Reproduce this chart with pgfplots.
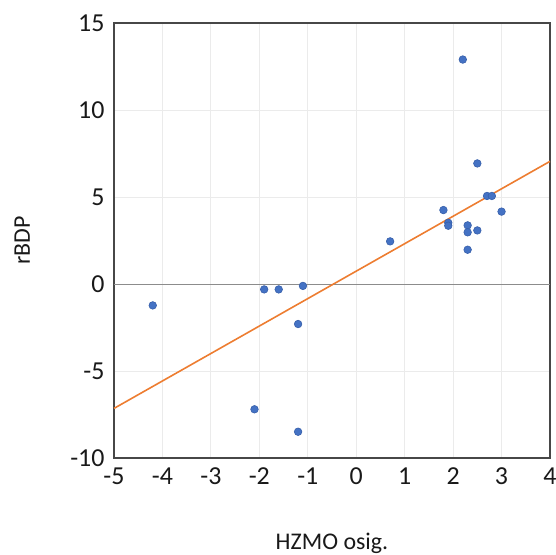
\documentclass[border=0pt]{standalone}
\usepackage{pgfplots}
\pgfplotsset{compat=1.18}
\usepackage{fontspec}
\setmainfont{Carlito}
\definecolor{xlblue}{RGB}{68,114,196}
\definecolor{xlblueedge}{RGB}{55,95,170}
\definecolor{xlorange}{RGB}{237,125,49}
\begin{document}
\begin{tikzpicture}
\begin{axis}[
  name=ax,
  scale only axis,
  width=436bp, height=435bp,
  xmin=-5, xmax=4, ymin=-10, ymax=15,
  xtick={-5,-4,...,4},
  ytick={-10,-5,0,5,10,15},
  grid=major,
  grid style={color=black!8, line width=0.8bp},
  axis line style={color=black!72, line width=1.4bp},
  major tick length=0pt,
  /pgf/number format/assume math mode=true,
  tick label style={font=\fontsize{26}{26}\selectfont, color=black!90},
  xticklabel style={yshift=-6bp},
  yticklabel style={xshift=-6bp},
  xlabel={HZMO osig.},
  ylabel={rBDP},
  label style={font=\fontsize{24}{24}\selectfont, color=black!90},
  xlabel style={at={(axis description cs:0.5,0)}, anchor=base, yshift=-91bp},
  ylabel style={at={(axis description cs:0,0.5)}, anchor=base, yshift=84bp},
  clip=false,
]
\addplot[color=black!45, line width=1bp, forget plot] coordinates {(-5,0) (4,0)};
\addplot[color=xlorange, line width=1.6bp] coordinates {(-5,-7.15) (4,7.05)};
\addplot[only marks, mark=*, mark size=3.8bp,
  mark options={fill=xlblue, draw=xlblueedge, line width=0.6bp}]
  coordinates {
  (2.2,12.9) (2.5,6.93) (2.7,5.06) (2.8,5.06) (1.8,4.25) (3.0,4.16)
  (1.9,3.52) (1.9,3.35) (2.3,3.37) (2.3,2.97) (2.5,3.08) (0.7,2.45)
  (2.3,1.97) (-4.2,-1.23) (-1.9,-0.31) (-1.6,-0.31) (-1.1,-0.11)
  (-1.2,-2.30) (-2.1,-7.20) (-1.2,-8.49)
  };
\end{axis}
\pgfresetboundingbox
\path (ax.south west) ++(-114bp,-96bp) coordinate (bbsw);
\path (ax.north east) ++(6bp,23bp) coordinate (bbne);
\path[use as bounding box] (bbsw) rectangle (bbne);
\end{tikzpicture}
\end{document}
